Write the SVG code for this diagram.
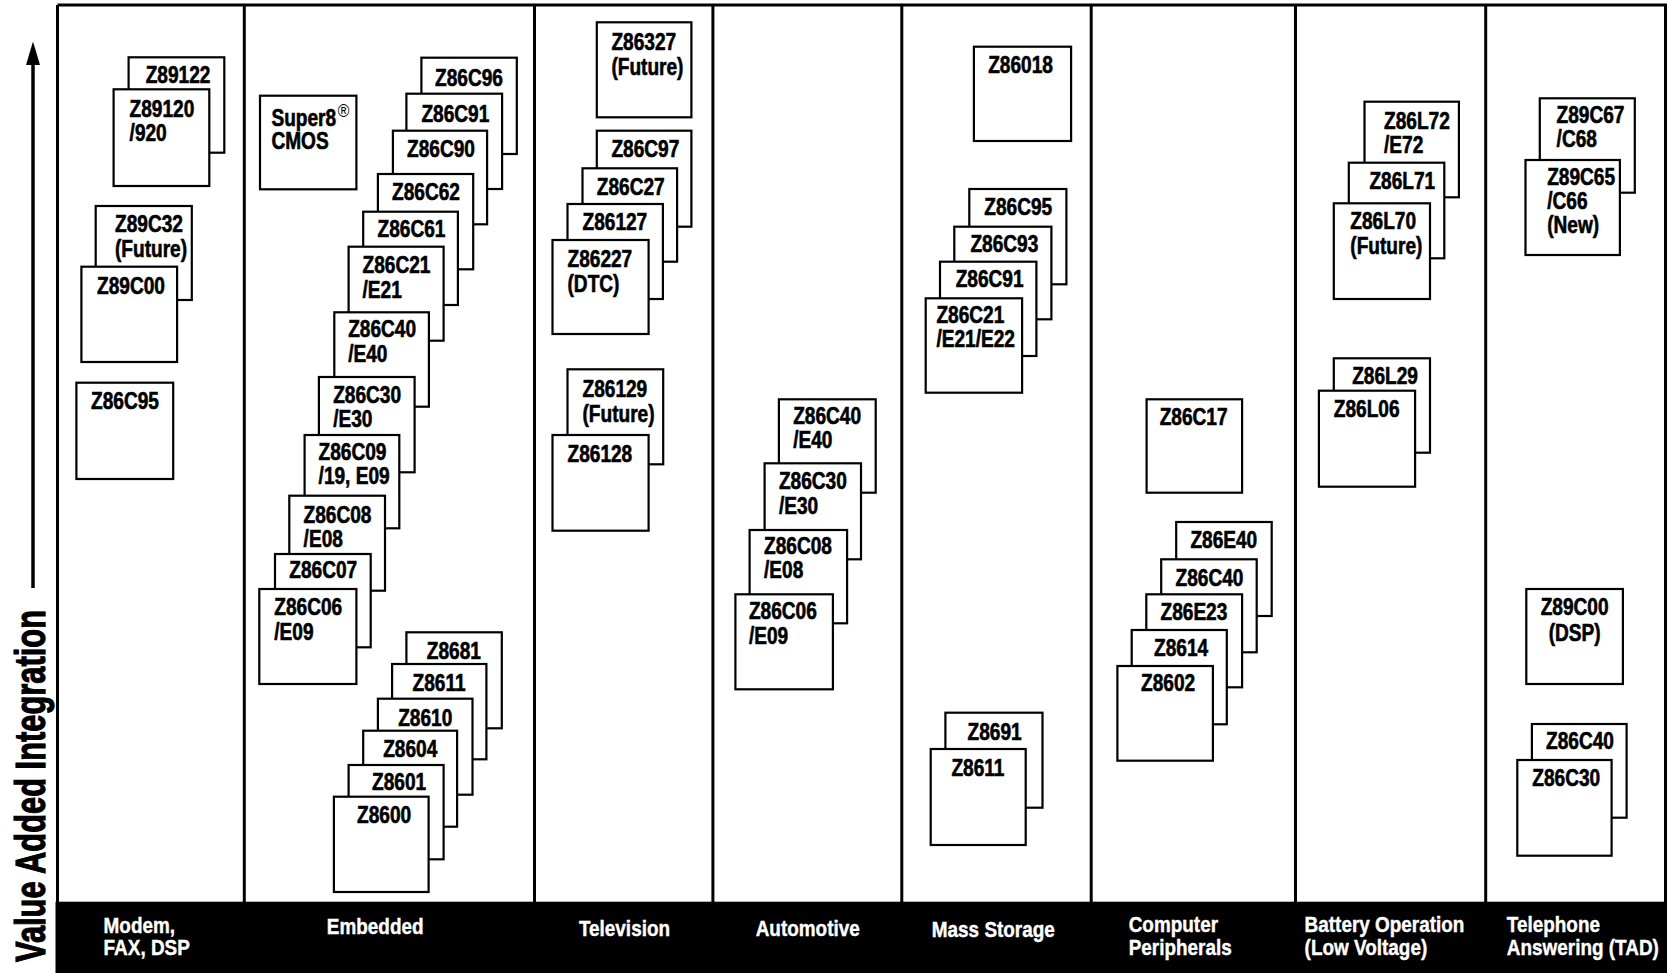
<svg xmlns="http://www.w3.org/2000/svg" width="1667" height="973" viewBox="0 0 1667 973">
<style>
.bg{fill:#fff}
.box{fill:#fff;stroke:#000;stroke-width:2.2}
.frame{fill:none;stroke:#000;stroke-width:3}
.div{stroke:#000;stroke-width:3}
.t{font-family:"Liberation Sans",Arial,sans-serif;font-weight:bold;font-size:23px;fill:#000;stroke:#000;stroke-width:0.6}
.reg{font-weight:normal;font-size:19px;stroke-width:0}
.bar{fill:#000}
.bt{font-family:"Liberation Sans",Arial,sans-serif;font-weight:bold;font-size:21.5px;fill:#fff;stroke:#fff;stroke-width:0.4}
.axis{font-family:"Liberation Sans",Arial,sans-serif;font-weight:bold;font-size:42px;fill:#000;stroke:#000;stroke-width:1.2}
</style>
<rect class="bg" x="0" y="0" width="1667" height="973"/>
<g id="frame">
<line class="frame" x1="57.5" y1="5" x2="1667" y2="5"/>
<line class="div" x1="57.5" y1="5" x2="57.5" y2="902"/>
<line class="div" x1="244.3" y1="5" x2="244.3" y2="902"/>
<line class="div" x1="534.5" y1="5" x2="534.5" y2="902"/>
<line class="div" x1="712.9" y1="5" x2="712.9" y2="902"/>
<line class="div" x1="901.8" y1="5" x2="901.8" y2="902"/>
<line class="div" x1="1091.2" y1="5" x2="1091.2" y2="902"/>
<line class="div" x1="1295.5" y1="5" x2="1295.5" y2="902"/>
<line class="div" x1="1485.7" y1="5" x2="1485.7" y2="902"/>
<line class="div" x1="1665.5" y1="5" x2="1665.5" y2="902"/>
<rect class="bar" x="55.5" y="901.7" width="1611.5" height="71.3"/>
</g>
<g id="axis">
<line x1="33" y1="60" x2="33" y2="588" stroke="#000" stroke-width="3.5"/>
<polygon points="33,41.5 26,65 40,65" fill="#000"/>
<text class="axis" transform="translate(45,962) rotate(-90)" textLength="352" lengthAdjust="spacingAndGlyphs">Value Added Integration</text>
</g>
<g id="categories">
<text class="bt" transform="translate(103.6,932.7) scale(.88,1)">Modem,<tspan x="0" dy="22.5">FAX, DSP</tspan></text>
<text class="bt" transform="translate(326.8,934) scale(.88,1)">Embedded</text>
<text class="bt" transform="translate(578.9,936) scale(.88,1)">Television</text>
<text class="bt" transform="translate(755.7,936) scale(.88,1)">Automotive</text>
<text class="bt" transform="translate(931.8,936.5) scale(.88,1)">Mass Storage</text>
<text class="bt" transform="translate(1128.7,931.7) scale(.88,1)">Computer<tspan x="0" dy="23.3">Peripherals</tspan></text>
<text class="bt" transform="translate(1304.6,931.7) scale(.88,1)">Battery Operation<tspan x="0" dy="23.3">(Low Voltage)</tspan></text>
<text class="bt" transform="translate(1506.8,931.7) scale(.88,1)">Telephone<tspan x="0" dy="23.3">Answering (TAD)</tspan></text>
</g>
<g id="connectors"></g>
<!-- Modem, FAX, DSP -->
<g id="n-z89122"><rect class="box" x="128.6" y="57.3" width="95.7" height="95.4"/><text class="t" transform="translate(145.7,83.3) scale(.83,1)">Z89122</text></g>
<g id="n-z89120"><rect class="box" x="113.6" y="89.3" width="95.7" height="96.7"/><text class="t" transform="translate(129.6,117.3) scale(.83,1)">Z89120<tspan x="0" dy="24">/920</tspan></text></g>
<g id="n-z89c32"><rect class="box" x="95.7" y="206" width="96.1" height="94"/><text class="t" transform="translate(115,231.7) scale(.83,1)">Z89C32<tspan x="0" dy="25">(Future)</tspan></text></g>
<g id="n-z89c00"><rect class="box" x="81.4" y="266.7" width="95.7" height="95.3"/><text class="t" transform="translate(97,294) scale(.83,1)">Z89C00</text></g>
<g id="n-z86c95-modem"><rect class="box" x="76.4" y="382.7" width="96.8" height="96.3"/><text class="t" transform="translate(91,409) scale(.83,1)">Z86C95</text></g>
<!-- Embedded -->
<g id="n-super8"><rect class="box" x="260" y="95.7" width="96.4" height="93.6"/><text class="t" transform="translate(271.4,125.7) scale(.83,1)">Super8<tspan class="reg" dx="2" dy="-9">®</tspan><tspan x="0" dy="32.3">CMOS</tspan></text></g>
<g id="n-z86c96"><rect class="box" x="421.4" y="57.7" width="95.4" height="96.3"/><text class="t" transform="translate(435,86) scale(.83,1)">Z86C96</text></g>
<g id="n-z86c91-emb"><rect class="box" x="406.4" y="93.7" width="95.7" height="95.3"/><text class="t" transform="translate(421.4,121.7) scale(.83,1)">Z86C91</text></g>
<g id="n-z86c90"><rect class="box" x="392.9" y="130.7" width="94.2" height="93.6"/><text class="t" transform="translate(407,156.7) scale(.83,1)">Z86C90</text></g>
<g id="n-z86c62"><rect class="box" x="377.9" y="174" width="95.3" height="95.3"/><text class="t" transform="translate(392,200) scale(.83,1)">Z86C62</text></g>
<g id="n-z86c61"><rect class="box" x="363.2" y="211.7" width="94.7" height="93.3"/><text class="t" transform="translate(377.5,236.7) scale(.83,1)">Z86C61</text></g>
<g id="n-z86c21-emb"><rect class="box" x="348.6" y="246.7" width="95" height="94"/><text class="t" transform="translate(362.5,273.3) scale(.83,1)">Z86C21<tspan x="0" dy="24.4">/E21</tspan></text></g>
<g id="n-z86c40-emb"><rect class="box" x="334.3" y="312.3" width="94.6" height="94.4"/><text class="t" transform="translate(348.2,337.3) scale(.83,1)">Z86C40<tspan x="0" dy="24.4">/E40</tspan></text></g>
<g id="n-z86c30-emb"><rect class="box" x="318.9" y="377" width="95.7" height="95.3"/><text class="t" transform="translate(333.2,403.3) scale(.83,1)">Z86C30<tspan x="0" dy="24">/E30</tspan></text></g>
<g id="n-z86c09"><rect class="box" x="304.6" y="435" width="94.7" height="93.3"/><text class="t" transform="translate(318.6,460) scale(.83,1)">Z86C09<tspan x="0" dy="24">/19, E09</tspan></text></g>
<g id="n-z86c08-emb"><rect class="box" x="289.3" y="495.7" width="95.7" height="95"/><text class="t" transform="translate(303.6,522.7) scale(.83,1)">Z86C08<tspan x="0" dy="24">/E08</tspan></text></g>
<g id="n-z86c07"><rect class="box" x="275" y="554" width="95.7" height="93.3"/><text class="t" transform="translate(289.3,578.3) scale(.83,1)">Z86C07</text></g>
<g id="n-z86c06-emb"><rect class="box" x="259.3" y="589" width="97.1" height="95"/><text class="t" transform="translate(274.3,615) scale(.83,1)">Z86C06<tspan x="0" dy="25">/E09</tspan></text></g>
<g id="n-z8681"><rect class="box" x="406.4" y="632.3" width="95.4" height="96"/><text class="t" transform="translate(426.8,659.3) scale(.83,1)">Z8681</text></g>
<g id="n-z8611-emb"><rect class="box" x="392.1" y="664" width="94.3" height="95.3"/><text class="t" transform="translate(412.5,691) scale(.83,1)">Z8611</text></g>
<g id="n-z8610"><rect class="box" x="377.9" y="698.7" width="94.6" height="96"/><text class="t" transform="translate(398.2,726) scale(.83,1)">Z8610</text></g>
<g id="n-z8604"><rect class="box" x="363.2" y="730.7" width="93.9" height="96"/><text class="t" transform="translate(383.2,757.3) scale(.83,1)">Z8604</text></g>
<g id="n-z8601"><rect class="box" x="348.6" y="765" width="95" height="94.3"/><text class="t" transform="translate(372.1,790) scale(.83,1)">Z8601</text></g>
<g id="n-z8600"><rect class="box" x="333.9" y="796.7" width="94.7" height="95.3"/><text class="t" transform="translate(357.1,822.7) scale(.83,1)">Z8600</text></g>
<!-- Television -->
<g id="n-z86327"><rect class="box" x="596.8" y="22.3" width="94.6" height="95"/><text class="t" transform="translate(611.4,50) scale(.83,1)">Z86327<tspan x="0" dy="25">(Future)</tspan></text></g>
<g id="n-z86c97"><rect class="box" x="596.8" y="130.7" width="94.6" height="96"/><text class="t" transform="translate(611.4,157.3) scale(.83,1)">Z86C97</text></g>
<g id="n-z86c27"><rect class="box" x="582.5" y="168.3" width="94.6" height="93.4"/><text class="t" transform="translate(596.8,195) scale(.83,1)">Z86C27</text></g>
<g id="n-z86127"><rect class="box" x="567.5" y="204" width="95.4" height="95"/><text class="t" transform="translate(582.5,230) scale(.83,1)">Z86127</text></g>
<g id="n-z86227"><rect class="box" x="552.5" y="240" width="96.1" height="94"/><text class="t" transform="translate(567.5,266.7) scale(.83,1)">Z86227<tspan x="0" dy="25">(DTC)</tspan></text></g>
<g id="n-z86129"><rect class="box" x="567.5" y="369.3" width="95.7" height="95"/><text class="t" transform="translate(582.5,396.7) scale(.83,1)">Z86129<tspan x="0" dy="25">(Future)</tspan></text></g>
<g id="n-z86128"><rect class="box" x="552.5" y="435" width="96.1" height="95.7"/><text class="t" transform="translate(567.5,461.7) scale(.83,1)">Z86128</text></g>
<!-- Automotive -->
<g id="n-z86c40-auto"><rect class="box" x="778.9" y="399.3" width="96.8" height="93.4"/><text class="t" transform="translate(793.2,424) scale(.83,1)">Z86C40<tspan x="0" dy="24.3">/E40</tspan></text></g>
<g id="n-z86c30-auto"><rect class="box" x="764.6" y="463.3" width="96.4" height="96"/><text class="t" transform="translate(778.9,489.3) scale(.83,1)">Z86C30<tspan x="0" dy="25">/E30</tspan></text></g>
<g id="n-z86c08-auto"><rect class="box" x="749.6" y="530" width="97.5" height="93.3"/><text class="t" transform="translate(764,554) scale(.83,1)">Z86C08<tspan x="0" dy="24.3">/E08</tspan></text></g>
<g id="n-z86c06-auto"><rect class="box" x="735.4" y="594.3" width="97.5" height="95"/><text class="t" transform="translate(748.9,619.3) scale(.83,1)">Z86C06<tspan x="0" dy="24.7">/E09</tspan></text></g>
<!-- Mass Storage -->
<g id="n-z86018"><rect class="box" x="973.9" y="46.7" width="97.2" height="94.3"/><text class="t" transform="translate(988.2,72.7) scale(.83,1)">Z86018</text></g>
<g id="n-z86c95-ms"><rect class="box" x="969.3" y="189" width="97.1" height="95.3"/><text class="t" transform="translate(984.3,215) scale(.83,1)">Z86C95</text></g>
<g id="n-z86c93"><rect class="box" x="954.3" y="226.7" width="97.1" height="92.6"/><text class="t" transform="translate(970.4,252.3) scale(.83,1)">Z86C93</text></g>
<g id="n-z86c91-ms"><rect class="box" x="940" y="261.7" width="96.4" height="94.3"/><text class="t" transform="translate(955.7,287.3) scale(.83,1)">Z86C91</text></g>
<g id="n-z86c21-ms"><rect class="box" x="925.7" y="298.3" width="96.4" height="94.4"/><text class="t" transform="translate(936.4,323.3) scale(.83,1)">Z86C21<tspan x="0" dy="24">/E21/E22</tspan></text></g>
<g id="n-z8691"><rect class="box" x="945.4" y="712.7" width="97.1" height="95"/><text class="t" transform="translate(967.5,740) scale(.83,1)">Z8691</text></g>
<g id="n-z8611-ms"><rect class="box" x="930.7" y="749" width="95" height="96"/><text class="t" transform="translate(951.4,776) scale(.83,1)">Z8611</text></g>
<!-- Computer Peripherals -->
<g id="n-z86c17"><rect class="box" x="1146.6" y="399.3" width="95.5" height="93.4"/><text class="t" transform="translate(1159.7,425) scale(.83,1)">Z86C17</text></g>
<g id="n-z86e40"><rect class="box" x="1176.2" y="522" width="95.5" height="94"/><text class="t" transform="translate(1190.4,548.3) scale(.83,1)">Z86E40</text></g>
<g id="n-z86c40-cp"><rect class="box" x="1161.2" y="559.3" width="95.5" height="93"/><text class="t" transform="translate(1175.5,586) scale(.83,1)">Z86C40</text></g>
<g id="n-z86e23"><rect class="box" x="1146.3" y="594.3" width="95.8" height="93"/><text class="t" transform="translate(1160.5,620) scale(.83,1)">Z86E23</text></g>
<g id="n-z8614"><rect class="box" x="1131.7" y="630" width="95.1" height="94.3"/><text class="t" transform="translate(1154.1,655.7) scale(.83,1)">Z8614</text></g>
<g id="n-z8602"><rect class="box" x="1117.4" y="666" width="95.5" height="94.7"/><text class="t" transform="translate(1141,690.7) scale(.83,1)">Z8602</text></g>
<!-- Battery Operation -->
<g id="n-z86l72"><rect class="box" x="1364.5" y="101.7" width="94.4" height="95.6"/><text class="t" transform="translate(1384,129) scale(.83,1)">Z86L72<tspan x="0" dy="23.7">/E72</tspan></text></g>
<g id="n-z86l71"><rect class="box" x="1348.8" y="162.7" width="95.5" height="95.6"/><text class="t" transform="translate(1369.4,189.3) scale(.83,1)">Z86L71</text></g>
<g id="n-z86l70"><rect class="box" x="1333.8" y="203.3" width="96.2" height="95.7"/><text class="t" transform="translate(1350.3,229.3) scale(.83,1)">Z86L70<tspan x="0" dy="24.7">(Future)</tspan></text></g>
<g id="n-z86l29"><rect class="box" x="1333.8" y="358.3" width="96.2" height="94.4"/><text class="t" transform="translate(1352.2,384) scale(.83,1)">Z86L29</text></g>
<g id="n-z86l06"><rect class="box" x="1318.9" y="390.7" width="96.2" height="96"/><text class="t" transform="translate(1333.8,417.3) scale(.83,1)">Z86L06</text></g>
<!-- Telephone Answering -->
<g id="n-z89c67"><rect class="box" x="1539.8" y="98.3" width="95" height="94.4"/><text class="t" transform="translate(1556.6,123.3) scale(.83,1)">Z89C67<tspan x="0" dy="23.4">/C68</tspan></text></g>
<g id="n-z89c65"><rect class="box" x="1525.5" y="160" width="94.4" height="95"/><text class="t" transform="translate(1547.2,185) scale(.83,1)">Z89C65<tspan x="0" dy="24.3">/C66</tspan><tspan x="0" dy="24">(New)</tspan></text></g>
<g id="n-z89c00-dsp"><rect class="box" x="1526.3" y="589" width="96.6" height="95"/><text class="t" text-anchor="middle" transform="translate(1574.6,615) scale(.83,1)">Z89C00<tspan x="0" dy="25.7">(DSP)</tspan></text></g>
<g id="n-z86c40-tad"><rect class="box" x="1531.9" y="724" width="94.7" height="93.7"/><text class="t" transform="translate(1546.1,749.3) scale(.83,1)">Z86C40</text></g>
<g id="n-z86c30-tad"><rect class="box" x="1517.3" y="760" width="94.3" height="95.7"/><text class="t" transform="translate(1532.3,786) scale(.83,1)">Z86C30</text></g>
</svg>
